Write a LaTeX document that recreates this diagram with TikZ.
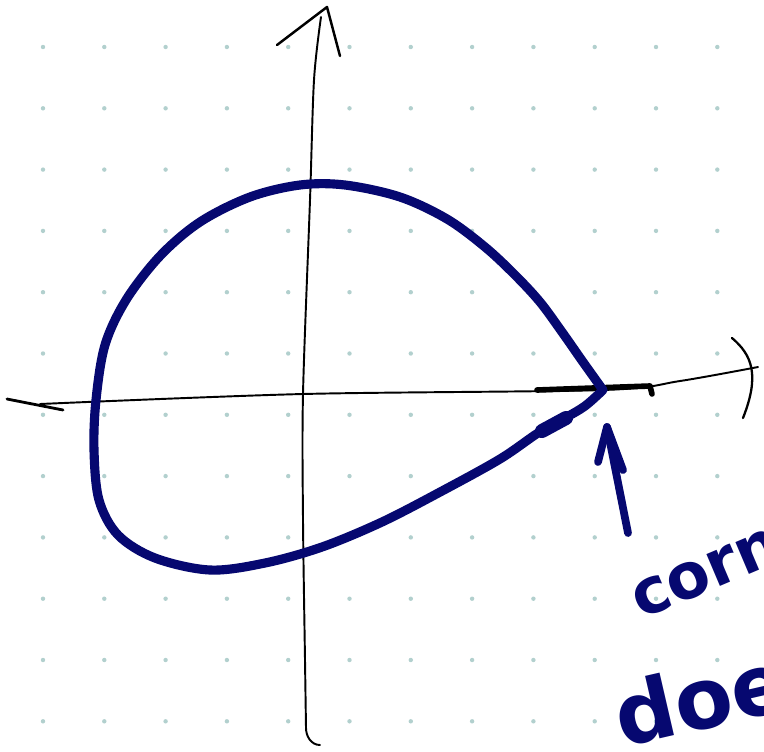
\documentclass[tikz,border=0pt]{standalone}
\usepackage{fontspec}
\setsansfont{DejaVu Sans}
\definecolor{ink}{RGB}{6,8,112}
\definecolor{dotcol}{RGB}{178,208,206}
\begin{document}
\begin{tikzpicture}[x=0.02cm, y=-0.02cm, line cap=round, line join=round]
                \useasboundingbox (0,0) rectangle (764,751);
                \fill[white] (0,0) rectangle (764,751);
                
                % dotted paper
                \foreach \i in {0,...,11}
                    \foreach \j in {0,...,11}
                        \fill[dotcol] ({43+61.3*\i}, {47+61.3*\j}) circle (2.2);
                
                \coordinate (O) at (303,394);
                \coordinate (C) at (603,390);
                \coordinate (Ytop) at (327,7);
                \coordinate (Xend) at (758,367);
                \coordinate (tail) at (628,533);
                \coordinate (tip) at (607,427);
                
                % axes
                \draw[line width=1.6pt] (7,399) -- (63,410);
                \draw[line width=1.1pt] plot[smooth, tension=0.5] coordinates {(40,404) (O) (C) (680,381) (Xend)};
                \draw[line width=1.3pt] (732,338) .. controls (752,355) and (760,375) .. (743,418);
                \draw[line width=1.1pt] plot[smooth, tension=0.5] coordinates {(321,17) (314,80) (310,200) (O) (303,520) (305,660) (306,728)} to[out=-90, in=180] (320,745);
                \draw[line width=1.4pt] (277,45) -- (Ytop) -- (340,56);
                \draw[line width=3.2pt] (537,390) -- (650,386) -- (652,394);
                
                % teardrop
                \draw[ink, line width=5.2pt] plot[smooth, tension=0.55] coordinates {(C) (583,362) (562,332) (540,302) (515,275) (485,247) (447,219) (400,197) (345,185) (300,185) (250,197) (200,222) (160,256) (126,300) (105,345) (96,400) (94,450) (99,500) (118,535) (155,558) (210,570) (265,563) (322,547) (382,522) (442,491) (500,459) (538,433) (565,418) (585,406) (C)};
                \draw[ink, line width=8pt] (542,431) -- (566,418);
                
                % pointer
                \draw[ink, line width=4.4pt] (tail) -- (tip);
                \draw[ink, line width=4.4pt] (598,462) -- (tip) -- (623,470);
                
                \node[ink, font=\sffamily\bfseries\fontsize{36}{36}\selectfont, anchor=base west, rotate=23, inner sep=0pt] (lab1) at (641,620) {corne};
                \node[ink, font=\sffamily\bfseries\fontsize{48}{48}\selectfont, anchor=base west, rotate=13, inner sep=0pt] (lab2) at (622,748) {does};
\end{tikzpicture}
\end{document}
